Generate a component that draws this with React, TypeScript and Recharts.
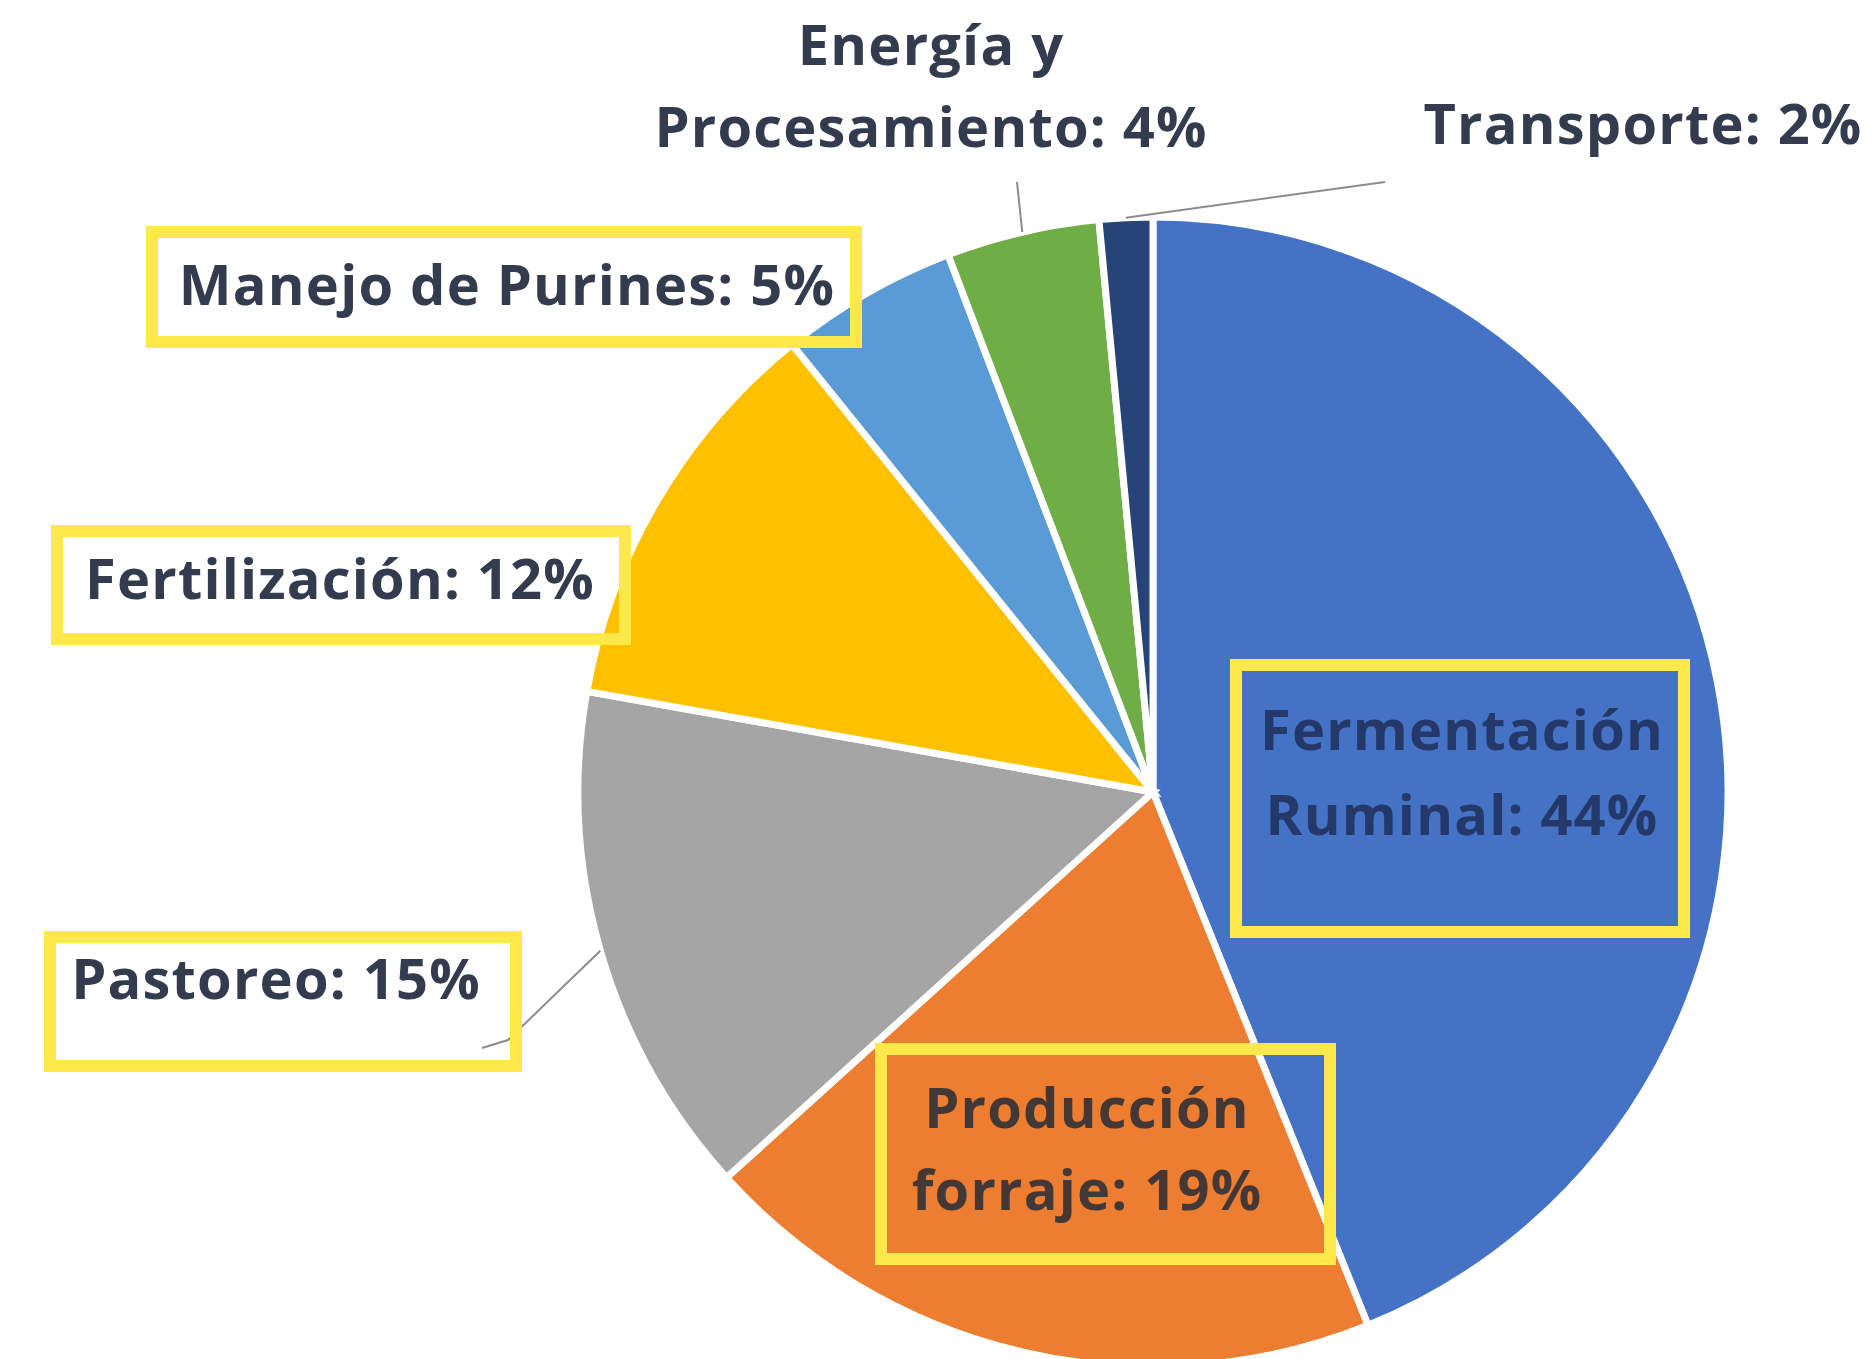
import { PieChart, Pie, Cell } from 'recharts';

// slice order: clockwise from 12 o'clock
const categories = [
  'Fermentación Ruminal',
  'Producción forraje',
  'Pastoreo',
  'Fertilización',
  'Manejo de Purines',
  'Energía y Procesamiento',
  'Transporte',
];
const shares = [43.9, 19.4, 14.5, 11.4, 5.0, 4.3, 1.5];
const labelPct = ['44%', '19%', '15%', '12%', '5%', '4%', '2%'];
const colors = ['#4472C4', '#ED7D31', '#A5A5A5', '#FFC000', '#5B9BD5', '#70AD47', '#264478'];

const data = categories.map((name, i) => ({ name, value: shares[i] }));

const W = 1872;
const H = 1359;
const FONT = 56;
const HIGHLIGHT = '#FFE94A';

// hand-placed data labels (label x center, line y centers, optional highlight box, optional leader)
interface LabelLayout {
  x: number;
  ys: number[];
  split: number; // words on first line, 0 = one line
  color: string;
  box?: [number, number, number, number];
  leader?: Array<[number, number]>;
}

const labelLayout: LabelLayout[] = [
  { x: 1462, ys: [728, 813], split: 1, color: '#24386A', box: [1230, 659, 1690, 938] },
  { x: 1087, ys: [1106, 1188], split: 1, color: '#433836', box: [875, 1043, 1336, 1265] },
  { x: 276, ys: [977], split: 0, color: '#323C4E', box: [44, 931, 522, 1072], leader: [[482, 1048], [508, 1040]] },
  { x: 340, ys: [577], split: 0, color: '#323C4E', box: [51, 525, 631, 645] },
  { x: 507, ys: [283], split: 0, color: '#323C4E', box: [146, 226, 862, 348] },
  { x: 931, ys: [43, 125], split: 2, color: '#323C4E', leader: [[1017, 182]] },
  { x: 1643, ys: [122], split: 0, color: '#323C4E', leader: [[1385, 182]] },
];

const RAD = Math.PI / 180;

function renderLabel(props: any) {
  const { cx, cy, midAngle, outerRadius, index } = props;
  const L = labelLayout[index];
  const text = `${categories[index]}: ${labelPct[index]}`;
  const words = text.split(' ');
  const lines = L.split
    ? [words.slice(0, L.split).join(' '), words.slice(L.split).join(' ')]
    : [text];

  let leader = null;
  if (L.leader) {
    const ex = cx + outerRadius * Math.cos(-midAngle * RAD);
    const ey = cy + outerRadius * Math.sin(-midAngle * RAD);
    const pts = [...L.leader, [ex, ey]];
    const d = pts.map((p, i) => `${i ? 'L' : 'M'}${p[0]},${p[1]}`).join(' ');
    leader = <path d={d} fill="none" stroke="#8C8C8C" strokeWidth={2} />;
  }

  let box = null;
  if (L.box) {
    const [x1, y1, x2, y2] = L.box;
    const bw = 12;
    box = (
      <rect
        x={x1 + bw / 2}
        y={y1 + bw / 2}
        width={x2 - x1 - bw}
        height={y2 - y1 - bw}
        fill="none"
        stroke={HIGHLIGHT}
        strokeWidth={bw}
      />
    );
  }

  return (
    <g key={`lbl-${index}`}>
      {leader}
      {box}
      <text
        textAnchor="middle"
        fill={L.color}
        fontFamily="'Open Sans', sans-serif"
        fontWeight={700}
        fontSize={FONT}
        letterSpacing={1.2}
      >
        {lines.map((ln, i) => (
          <tspan key={i} x={L.x} y={L.ys[i]} dominantBaseline="central">
            {ln}
          </tspan>
        ))}
      </text>
    </g>
  );
}

export default function App() {
  return (
    <div style={{ position: 'absolute', left: 0, top: 0, width: W, height: H, background: '#fff' }}>
      <PieChart width={W} height={H} margin={{ top: 0, right: 0, bottom: 0, left: 0 }}>
        <Pie
          data={data}
          dataKey="value"
          nameKey="name"
          cx={1153}
          cy={792}
          outerRadius={575}
          startAngle={90}
          endAngle={-270}
          stroke="#FFFFFF"
          strokeWidth={7}
          label={renderLabel}
          labelLine={false}
          isAnimationActive={false}
        >
          {data.map((entry, i) => (
            <Cell key={`cell-${i}`} fill={colors[i]} />
          ))}
        </Pie>
      </PieChart>
    </div>
  );
}
